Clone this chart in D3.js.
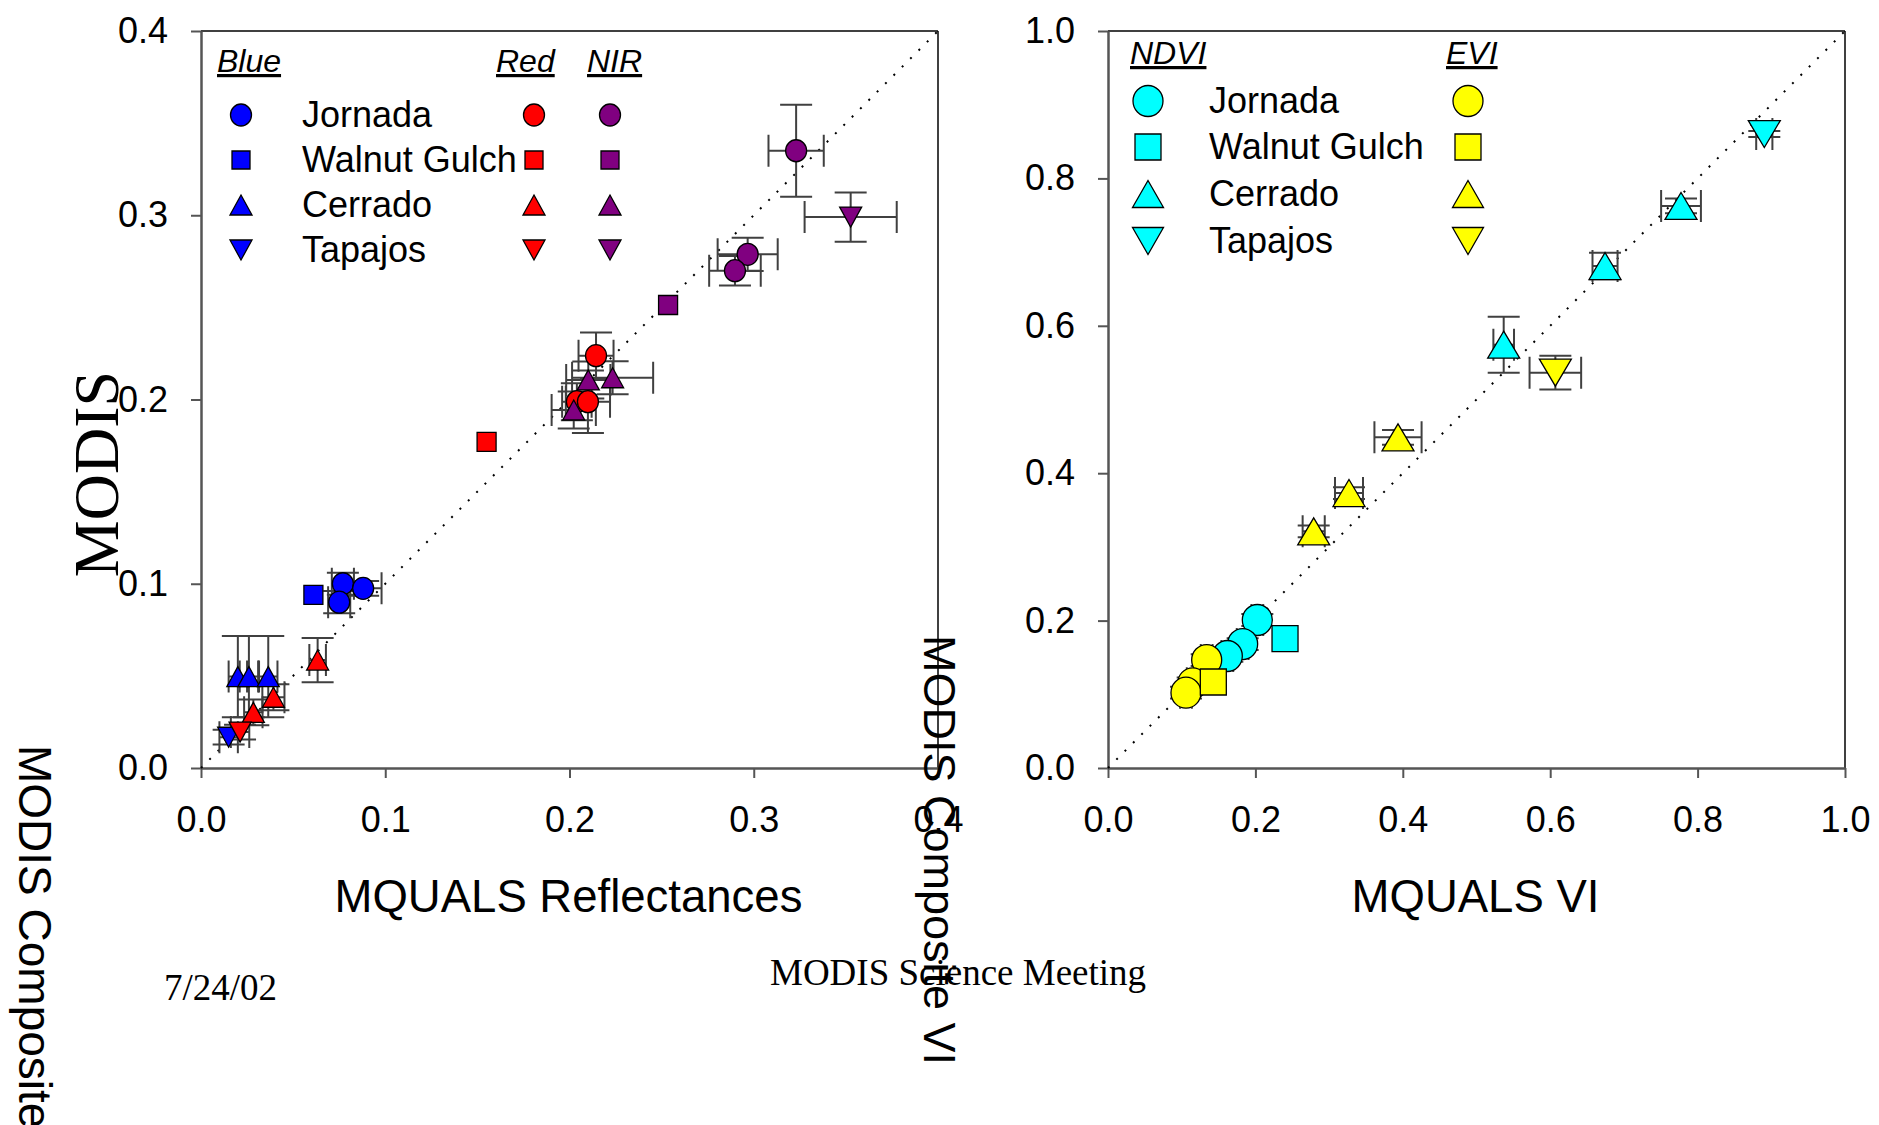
<!DOCTYPE html>
<html>
<head>
<meta charset="utf-8">
<script src="https://cdn.jsdelivr.net/npm/d3@7"></script>
<style>
body { margin: 0; background: #fff; }
text { font-family: 'Liberation Sans', Arial, sans-serif; }
</style>
</head>
<body>
<div class="chart"></div>
<script>
const sites = ['Jornada', 'Walnut Gulch', 'Cerrado', 'Tapajos'];
const reflTicks = [0, 0.1, 0.2, 0.3, 0.4];
const viTicks = [0, 0.2, 0.4, 0.6, 0.8, 1.0];

// [site, MQUALS, MODIS composite, x error, y error]
const bluePoints = [
    ['Jornada', 0.077, 0.100, 0.006, 0.006],
    ['Jornada', 0.075, 0.090, 0.006, 0.006],
    ['Jornada', 0.088, 0.0975, 0.010, 0.004],
    ['Walnut Gulch', 0.061, 0.094, 0, 0],
    ['Cerrado', 0.020, 0.0496, 0.005, 0.022],
    ['Cerrado', 0.026, 0.0496, 0.005, 0.022],
    ['Cerrado', 0.0365, 0.0496, 0.005, 0.022],
    ['Tapajos', 0.015, 0.0167, 0.005, 0.004]
];
const redPoints = [
    ['Jornada', 0.2144, 0.2238, 0.0095, 0.0125],
    ['Jornada', 0.204, 0.1988, 0.008, 0.010],
    ['Jornada', 0.210, 0.1988, 0.012, 0.017],
    ['Walnut Gulch', 0.155, 0.177, 0, 0],
    ['Cerrado', 0.0633, 0.0586, 0.0045, 0.012],
    ['Cerrado', 0.0393, 0.0384, 0.006, 0.007],
    ['Cerrado', 0.0284, 0.0302, 0.005, 0.007],
    ['Tapajos', 0.0212, 0.0195, 0.005, 0.004]
];
const nirPoints = [
    ['Jornada', 0.323, 0.335, 0.015, 0.025],
    ['Jornada', 0.2967, 0.2788, 0.0163, 0.009],
    ['Jornada', 0.2898, 0.2699, 0.014, 0.008],
    ['Walnut Gulch', 0.2535, 0.2513, 0, 0],
    ['Cerrado', 0.2234, 0.2118, 0.022, 0.009],
    ['Cerrado', 0.2102, 0.2106, 0.012, 0.010],
    ['Cerrado', 0.2023, 0.1943, 0.012, 0.010],
    ['Tapajos', 0.3526, 0.299, 0.025, 0.0134]
];
const ndviPoints = [
    ['Jornada', 0.2026, 0.2008, 0.008, 0.008],
    ['Jornada', 0.1827, 0.1682, 0.008, 0.008],
    ['Jornada', 0.1619, 0.152, 0.008, 0.008],
    ['Walnut Gulch', 0.2402, 0.1755, 0, 0],
    ['Cerrado', 0.7775, 0.7626, 0.027, 0.010],
    ['Cerrado', 0.6744, 0.6811, 0.017, 0.018],
    ['Cerrado', 0.5369, 0.5744, 0.014, 0.038],
    ['Tapajos', 0.8905, 0.8602, 0.011, 0.004]
];
const eviPoints = [
    ['Jornada', 0.1339, 0.1465, 0.008, 0.008],
    ['Jornada', 0.1149, 0.1149, 0.008, 0.008],
    ['Jornada', 0.1058, 0.1022, 0.008, 0.008],
    ['Walnut Gulch', 0.1429, 0.1167, 0, 0],
    ['Cerrado', 0.3935, 0.4487, 0.032, 0.010],
    ['Cerrado', 0.327, 0.3731, 0.019, 0.008],
    ['Cerrado', 0.2791, 0.3211, 0.015, 0.008],
    ['Tapajos', 0.607, 0.5364, 0.035, 0.023]
];

const width = 1879;
const height = 1125;
const svg = d3.select('.chart')
                .append('svg')
                .attr('width', width)
                .attr('height', height);

svg.append('rect').attr('width', width).attr('height', height).attr('fill', '#fff');

const smallMark = {r: 10.5, sq: 9.5, tw: 11, th: 10};
const bigMark = {r: 15, sq: 13, tw: 16, th: 13.5};

function markerPath(site, s) {
    if (site === 'Jornada') {
        return `M${-s.r},0a${s.r},${s.r + 0.5} 0 1,0 ${2 * s.r},0a${s.r},${s.r + 0.5} 0 1,0 ${-2 * s.r},0Z`;
    }
    if (site === 'Walnut Gulch') {
        return `M${-s.sq},${-s.sq}H${s.sq}V${s.sq}H${-s.sq}Z`;
    }
    if (site === 'Cerrado') {
        return `M0,${-s.th}L${s.tw},${s.th}L${-s.tw},${s.th}Z`;
    }
    return `M${-s.tw},${-s.th}L${s.tw},${-s.th}L0,${s.th}Z`;
}

function drawPanel(p) {
    const xScale = d3.scaleLinear().domain(p.domain).range([p.left, p.right]);
    const yScale = d3.scaleLinear().domain(p.domain).range([768, 31]);
    const g = svg.append('g');

    // frame top / right
    g.append('line')
        .attr('x1', xScale(p.domain[0])).attr('x2', xScale(p.domain[1]))
        .attr('y1', yScale(p.domain[1])).attr('y2', yScale(p.domain[1]))
        .attr('stroke', '#000').attr('stroke-width', 1.5);
    g.append('line')
        .attr('x1', xScale(p.domain[1])).attr('x2', xScale(p.domain[1]))
        .attr('y1', yScale(p.domain[0])).attr('y2', yScale(p.domain[1]))
        .attr('stroke', '#000').attr('stroke-width', 1.5);

    const xAxis = d3.axisBottom(xScale)
                    .tickValues(p.ticks)
                    .tickFormat(d3.format('.1f'))
                    .tickSize(10)
                    .tickSizeOuter(0)
                    .tickPadding(28);
    const yAxis = d3.axisLeft(yScale)
                    .tickValues(p.ticks)
                    .tickFormat(d3.format('.1f'))
                    .tickSize(10)
                    .tickSizeOuter(0)
                    .tickPadding(23);

    [g.append('g').attr('transform', 'translate(0,768)').call(xAxis),
     g.append('g').attr('transform', `translate(${p.left},0)`).call(yAxis)].forEach(a => {
        a.select('.domain').attr('stroke', '#555').attr('stroke-width', 2.5);
        a.selectAll('.tick line').attr('stroke', '#555').attr('stroke-width', 2);
        a.selectAll('.tick text')
            .attr('fill', '#000')
            .style('font-size', '36px')
            .style('font-family', "'Liberation Sans', Arial, sans-serif");
    });

    // 1:1 line
    g.append('line')
        .attr('x1', xScale(p.domain[0])).attr('y1', yScale(p.domain[0]))
        .attr('x2', xScale(p.domain[1])).attr('y2', yScale(p.domain[1]))
        .attr('stroke', '#000')
        .attr('stroke-width', 2)
        .attr('stroke-dasharray', '2,9.8');

    const cap = 16;
    p.series.forEach(s => {
        const eb = g.append('g').attr('stroke', '#404040').attr('stroke-width', 2).attr('fill', 'none');
        s.points.filter(d => d[3] > 0 || d[4] > 0).forEach(d => {
            const cx = xScale(d[1]), cy = yScale(d[2]);
            const xl = xScale(d[1] - d[3]), xr = xScale(d[1] + d[3]);
            const yt = yScale(d[2] + d[4]), yb = yScale(d[2] - d[4]);
            eb.append('path')
                .attr('d', `M${xl},${cy}H${xr}M${xl},${cy - cap}V${cy + cap}M${xr},${cy - cap}V${cy + cap}` +
                           `M${cx},${yt}V${yb}M${cx - cap},${yt}H${cx + cap}M${cx - cap},${yb}H${cx + cap}`);
        });
    });

    p.series.forEach(s => {
        g.append('g')
            .selectAll('path')
            .data(s.points)
            .enter()
            .append('path')
            .attr('transform', d => `translate(${xScale(d[1])},${yScale(d[2])})`)
            .attr('d', d => markerPath(d[0], p.mark))
            .attr('fill', s.color)
            .attr('stroke', '#000')
            .attr('stroke-width', 1.3);
    });

    // legend
    const lg = g.append('g');
    p.series.forEach((s, i) => {
        lg.append('text')
            .attr('x', p.legend.headX[i])
            .attr('y', p.legend.headY)
            .attr('font-style', 'italic')
            .attr('text-decoration', 'underline')
            .style('font-size', '32px')
            .text(s.name);
        sites.forEach((site, j) => {
            lg.append('path')
                .attr('transform', `translate(${p.legend.symX[i]},${p.legend.rows[j]})`)
                .attr('d', markerPath(site, p.legend.mark))
                .attr('fill', s.color)
                .attr('stroke', '#000')
                .attr('stroke-width', 1.3);
        });
    });
    sites.forEach((site, j) => {
        lg.append('text')
            .attr('x', p.legend.labelX)
            .attr('y', p.legend.rows[j] + 12)
            .style('font-size', '36px')
            .text(site);
    });

    svg.append('text')
        .attr('x', (p.left + p.right) / 2 - 1)
        .attr('y', 912)
        .attr('text-anchor', 'middle')
        .style('font-size', '45.5px')
        .text(p.title);
}

drawPanel({
    domain: [0, 0.4], ticks: reflTicks, left: 201, right: 938,
    mark: smallMark, title: 'MQUALS Reflectances',
    series: [
        {name: 'Blue', points: bluePoints, color: '#0000ff'},
        {name: 'Red', points: redPoints, color: '#ff0000'},
        {name: 'NIR', points: nirPoints, color: '#800080'}
    ],
    legend: {headX: [217, 496, 587], headY: 72, symX: [241, 534, 610],
             rows: [115, 160, 205, 250], labelX: 302, mark: {r: 10.5, sq: 9, tw: 11, th: 10}}
});

drawPanel({
    domain: [0, 1], ticks: viTicks, left: 1108, right: 1845,
    mark: bigMark, title: 'MQUALS VI',
    series: [
        {name: 'NDVI', points: ndviPoints, color: '#00ffff'},
        {name: 'EVI', points: eviPoints, color: '#ffff00'}
    ],
    legend: {headX: [1130, 1446], headY: 64, symX: [1148, 1468],
             rows: [101, 147, 194, 241], labelX: 1209, mark: {r: 15, sq: 13, tw: 15.5, th: 13.5}}
});

// stray titles from the slide
svg.append('text')
    .attr('transform', 'translate(118,474) rotate(-90)')
    .attr('text-anchor', 'middle')
    .style('font-family', "'Liberation Serif', 'Times New Roman', serif")
    .style('font-size', '64px')
    .text('MODIS');

svg.append('text')
    .attr('transform', 'translate(19,745) rotate(90)')
    .style('font-size', '46px')
    .text('MODIS Composite');

svg.append('text')
    .attr('transform', 'translate(924,635) rotate(90)')
    .style('font-size', '45px')
    .text('MODIS Composite VI');

svg.append('text')
    .attr('x', 164).attr('y', 1000)
    .style('font-family', "'Liberation Serif', 'Times New Roman', serif")
    .style('font-size', '37px')
    .text('7/24/02');

svg.append('text')
    .attr('x', 770).attr('y', 985)
    .style('font-family', "'Liberation Serif', 'Times New Roman', serif")
    .style('font-size', '37px')
    .text('MODIS Science Meeting');
</script>
</body>
</html>
